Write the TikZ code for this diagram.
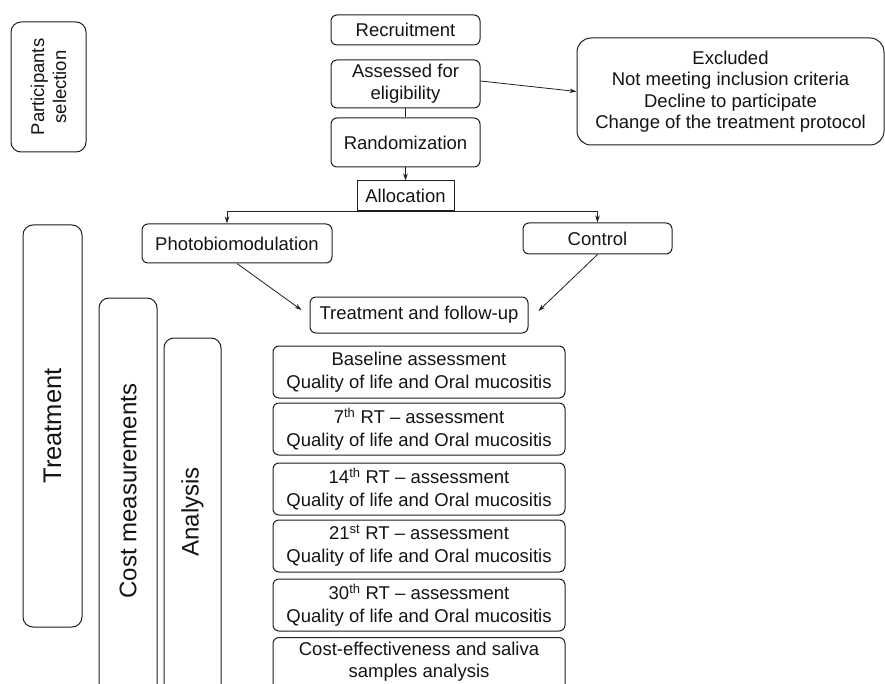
\documentclass[tikz,border=0pt]{standalone}
\usepackage{fontspec}
\setmainfont{Liberation Sans}
\usetikzlibrary{arrows.meta}
\begin{document}
\begin{tikzpicture}[x=1pt,y=-1pt,
  every node/.style={font=\fontsize{18.5}{22}\selectfont, text=black!92},
  rbox/.style={draw=black!88, line width=1pt, rounded corners=6pt, align=center, inner sep=0pt},
  sbox/.style={draw=black!88, line width=1pt, align=center, inner sep=0pt},
  side/.style={draw=black!88, line width=1pt, rounded corners=10pt, inner sep=0pt},
  conn/.style={draw=black!88, line width=0.8pt},
  arr/.style={conn, -{Stealth[length=7pt,width=4.5pt]}}]
\useasboundingbox (0,0) rectangle (885,684);
\clip (0,0) rectangle (885,684);
% side boxes
\node[side, minimum width=75pt, minimum height=130pt] (partsel) at (48.5,87) {};
\node[rotate=90, align=center] (partseltxt) at (partsel.center) {Participants\\selection};
\node[side, minimum width=59pt, minimum height=402pt] (treat) at (52.5,426) {};
\node[rotate=90, font=\fontsize{25.5}{28}\selectfont] (treattxt) at (52.5,426) {Treatment};
\node[side, minimum width=58pt, minimum height=422pt] (cost) at (128,509) {};
\node[rotate=90, font=\fontsize{24}{28}\selectfont] (costtxt) at (128,491) {Cost measurements};
\node[side, minimum width=57pt, minimum height=382pt] (anal) at (192.5,529) {};
\node[rotate=90, font=\fontsize{24}{28}\selectfont] (analtxt) at (192.5,512) {Analysis};
% flow
\node[rbox, minimum width=149pt, minimum height=30pt] (recruit) at (405.5,30) {Recruitment};
\node[rbox, minimum width=149pt, minimum height=48pt] (assess) at (405.5,84) {Assessed for\\eligibility};
\node[rbox, minimum width=149pt, minimum height=49pt] (random) at (405.5,142.5) {Randomization};
\node[sbox, minimum width=97pt, minimum height=30pt] (alloc) at (405.5,196) {Allocation};
\node[rbox, rounded corners=14pt, minimum width=307pt, minimum height=107pt, font=\fontsize{18.5}{21.5}\selectfont] (excl) at (730.5,91.5) {Excluded\\Not meeting inclusion criteria\\Decline to participate\\Change of the treatment protocol};
\node[rbox, minimum width=190pt, minimum height=39pt] (photo) at (237,243.5) {Photobiomodulation};
\node[rbox, minimum width=149pt, minimum height=31pt] (control) at (597.5,238.5) {Control};
\node[rbox, minimum width=218pt, minimum height=36pt] (treatfu) at (419,315) {Treatment and follow-up};
\node[rbox, minimum width=292pt, minimum height=52pt, font=\fontsize{18.5}{23}\selectfont] (base) at (419,372) {Baseline assessment\\Quality of life and Oral mucositis};
\node[rbox, minimum width=292pt, minimum height=52pt, font=\fontsize{18.5}{23}\selectfont] (rt7) at (419,429) {7\textsuperscript{th} RT -- assessment\\Quality of life and Oral mucositis};
\node[rbox, minimum width=292pt, minimum height=52pt, font=\fontsize{18.5}{23}\selectfont] (rt14) at (419,489) {14\textsuperscript{th} RT -- assessment\\Quality of life and Oral mucositis};
\node[rbox, minimum width=292pt, minimum height=52pt, font=\fontsize{18.5}{23}\selectfont] (rt21) at (419,546) {21\textsuperscript{st} RT -- assessment\\Quality of life and Oral mucositis};
\node[rbox, minimum width=292pt, minimum height=52pt, font=\fontsize{18.5}{23}\selectfont] (rt30) at (419,605) {30\textsuperscript{th} RT -- assessment\\Quality of life and Oral mucositis};
\node[rbox, minimum width=292pt, anchor=north, inner ysep=5pt, text depth=40pt, font=\fontsize{18.5}{22}\selectfont] (costeff) at (419,637) {Cost-effectiveness and saliva\\samples analysis};
% connectors
\draw[conn] (assess.south) -- (random.north);
\draw[arr] (random.south) -- (alloc.north);
\draw[arr] ([yshift=3pt]assess.east) -- (excl.west);
\draw[arr] (alloc.south) -| ([xshift=-10pt]photo.north);
\draw[arr] (alloc.south) -| (control.north);
\draw[arr] (photo.south) -- ([xshift=-8pt,yshift=5pt]treatfu.west);
\draw[arr] (control.south) -- ([xshift=10pt,yshift=4pt]treatfu.east);
\end{tikzpicture}
\end{document}
